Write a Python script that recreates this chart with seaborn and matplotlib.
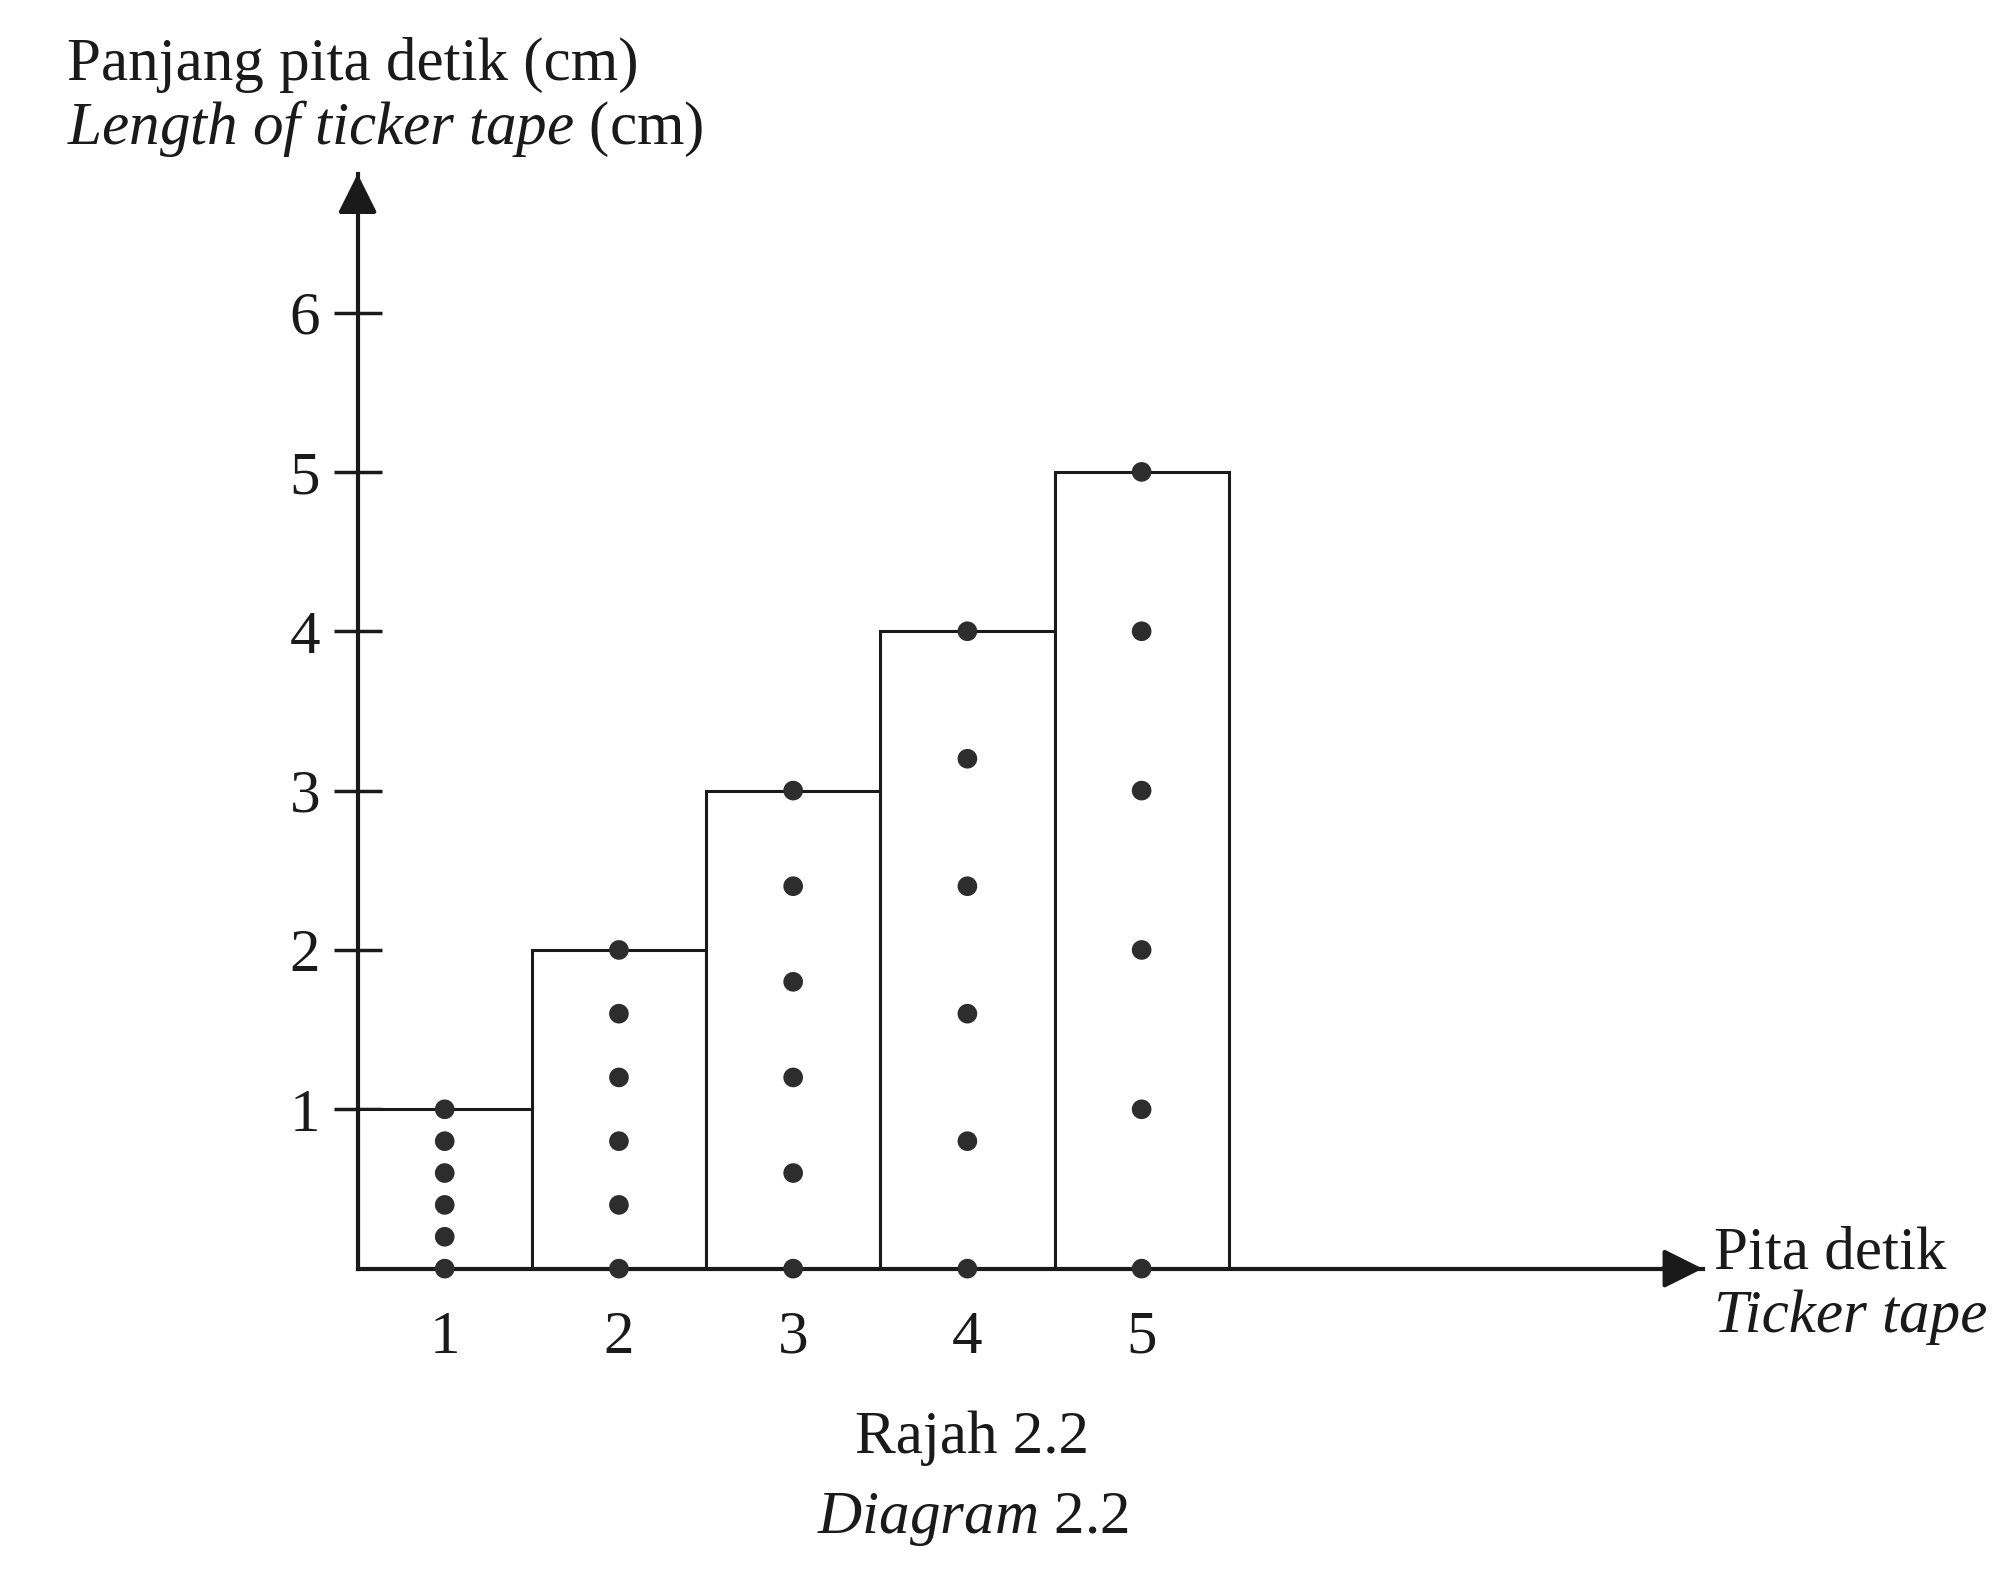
import pandas as pd
import seaborn as sns
import matplotlib.pyplot as plt

# ticker tapes and their lengths (cm)
tapes = [1, 2, 3, 4, 5]
tape_lengths = [1.0, 2.0, 3.0, 4.0, 5.0]

# dot positions on each tape (cm from the bottom)
dots_tape1 = [0.0, 0.2, 0.4, 0.6, 0.8, 1.0]
dots_tape2 = [0.0, 0.4, 0.8, 1.2, 1.6, 2.0]
dots_tape3 = [0.0, 0.6, 1.2, 1.8, 2.4, 3.0]
dots_tape4 = [0.0, 0.8, 1.6, 2.4, 3.2, 4.0]
dots_tape5 = [0.0, 1.0, 2.0, 3.0, 4.0, 5.0]

y_ticks = [1, 2, 3, 4, 5, 6]

bars = pd.DataFrame({'tape': tapes, 'length': tape_lengths})
dots = pd.concat([
    pd.DataFrame({'tape': t, 'position': d})
    for t, d in zip(tapes, [dots_tape1, dots_tape2, dots_tape3, dots_tape4, dots_tape5])
], ignore_index=True)

sns.set_theme(style='white')
plt.rcParams['font.family'] = ['Liberation Serif', 'DejaVu Serif']
plt.rcParams['mathtext.fontset'] = 'custom'
plt.rcParams['mathtext.rm'] = 'Liberation Serif'
plt.rcParams['mathtext.it'] = 'Liberation Serif:italic'

ink = '#1a1a1a'
fs = 44
fig = plt.figure(figsize=(20.09, 15.74), dpi=100)
ax = fig.add_axes([0.178, 0.194, 0.6695, 0.6955])

sns.barplot(data=bars, x='tape', y='length', native_scale=True, width=1,
            color='white', saturation=1, edgecolor=ink, linewidth=2.2, ax=ax)
sns.scatterplot(data=dots, x='tape', y='position', color='#2d2d2d', s=200,
                edgecolor='none', clip_on=False, zorder=3, legend=False, ax=ax)

ax.set_xlim(0.5, 8.22)
ax.set_ylim(0, 6.87)
ax.set_xlabel('')
ax.set_ylabel('')

for side in ['top', 'right']:
    ax.spines[side].set_visible(False)
for side in ['left', 'bottom']:
    ax.spines[side].set_linewidth(3)
    ax.spines[side].set_color(ink)

ax.set_yticks(y_ticks)
ax.set_yticklabels([str(v) for v in y_ticks])
ax.tick_params(axis='y', left=True, direction='inout', length=34, width=2.5, pad=10,
               labelsize=fs, colors=ink)
ax.set_xticks(tapes)
ax.set_xticklabels([str(t) for t in tapes])
ax.tick_params(axis='x', length=0, pad=30, labelsize=fs, colors=ink)

# arrow heads on both axes
head = dict(arrowstyle='-|>,head_length=1.2,head_width=0.6', mutation_scale=20,
            color=ink, lw=3, shrinkA=0, shrinkB=0)
ax.annotate('', xy=(1, 0), xytext=(0.97, 0), xycoords='axes fraction',
            arrowprops=head, annotation_clip=False)
ax.annotate('', xy=(0, 1), xytext=(0, 0.97), xycoords='axes fraction',
            arrowprops=head, annotation_clip=False)

fig.text(0.0333, 0.949, 'Panjang pita detik (cm)', fontsize=fs, va='baseline', color=ink)
fig.text(0.0333, 0.9085, r'$\mathit{Length\ of\ ticker\ tape}$ (cm)', fontsize=fs,
         va='baseline', color=ink)
fig.text(0.853, 0.1938, 'Pita detik', fontsize=fs, va='baseline', color=ink)
fig.text(0.853, 0.1538, 'Ticker tape', fontsize=fs, style='italic', va='baseline', color=ink)
fig.text(0.484, 0.0769, 'Rajah 2.2', fontsize=fs, ha='center', va='baseline', color=ink)
fig.text(0.484, 0.026, r'$\mathit{Diagram}$ 2.2', fontsize=fs, ha='center',
         va='baseline', color=ink)

fig.savefig('out.png', dpi=100)
